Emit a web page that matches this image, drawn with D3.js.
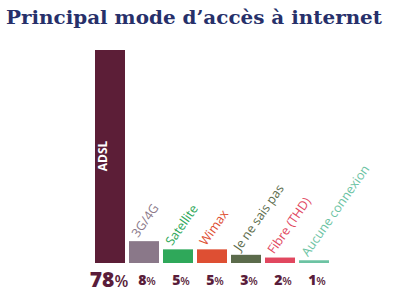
<!DOCTYPE html>
<html>
<head>
<meta charset="utf-8">
<script src="https://cdn.jsdelivr.net/npm/d3@7"></script>
<style>
body { margin:0; background:#fff; }
svg { display:block; }
</style>
</head>
<body>
<div id="chart"></div>
<script>
// data
var categories = ['ADSL', '3G/4G', 'Satellite', 'Wimax', 'Je ne sais pas', 'Fibre (THD)', 'Aucune connexion'];
var values = [78, 8, 5, 5, 3, 2, 1];
var colors = ['#5c1e37', '#8a7889', '#2fa85a', '#de4f33', '#5b6b4b', '#e1475f', '#6cc3a3'];

var svgWidth = 393, svgHeight = 298;

var svg = d3.select('#chart')
	.append('svg')
	.attr('width', svgWidth)
	.attr('height', svgHeight);

svg.append('text')
	.attr('x', 6)
	.attr('y', 24)
	.attr('textLength', 376)
	.attr('lengthAdjust', 'spacingAndGlyphs')
	.style('font-family', 'DejaVu Serif')
	.style('font-weight', 'bold')
	.style('font-size', '18.5px')
	.style('fill', '#27306a')
	.text('Principal mode d\u2019acc\u00e8s \u00e0 internet');

var xScale = d3.scaleBand()
	.domain(categories)
	.range([95, 329])
	.paddingInner(4 / 34)
	.paddingOuter(0);

var yScale = d3.scaleLinear()
	.domain([0, 78])
	.range([263, 50]);

var data = categories.map((c, i) => ({cat: c, val: values[i], col: colors[i]}));

// bars
svg.selectAll('rect.bar')
	.data(data)
	.enter()
	.append('rect')
	.attr('class', 'bar')
	.attr('x', d => xScale(d.cat))
	.attr('y', d => yScale(d.val))
	.attr('width', xScale.bandwidth())
	.attr('height', d => yScale(0) - yScale(d.val))
	.attr('fill', d => d.col);

// ADSL label inside bar
svg.append('text')
	.attr('transform', `translate(${xScale('ADSL') + 12},156)rotate(-90)`)
	.attr('text-anchor', 'middle')
	.style('font-family', 'Open Sans')
	.style('font-weight', 'bold')
	.style('font-size', '12px')
	.style('fill', '#fff')
	.text('ADSL');

// rotated category labels
svg.selectAll('text.cat')
	.data(data.slice(1))
	.enter()
	.append('text')
	.attr('class', 'cat')
	.attr('transform', d => `translate(${xScale(d.cat) + 9},${yScale(d.val) - 3})rotate(-55)`)
	.style('font-family', 'Open Sans')
	.style('font-size', '12.5px')
	.style('fill', d => d.col)
	.text(d => d.cat);

// percent labels
var pct = svg.selectAll('text.pct')
	.data(data)
	.enter()
	.append('text')
	.attr('class', 'pct')
	.attr('x', (d, i) => xScale(d.cat) + xScale.bandwidth() / 2 + (i === 0 ? -1 : 3))
	.attr('y', (d, i) => i === 0 ? 287 : 285)
	.attr('text-anchor', 'middle')
	.style('font-family', 'Open Sans')
	.style('fill', '#5a1d3a');

pct.append('tspan')
	.style('font-weight', 800)
	.style('font-size', (d, i) => i === 0 ? '21px' : '14px')
	.text(d => d.val);

pct.append('tspan')
	.style('font-weight', 600)
	.style('font-size', (d, i) => i === 0 ? '16px' : '11px')
	.text('%');
</script>
</body>
</html>
